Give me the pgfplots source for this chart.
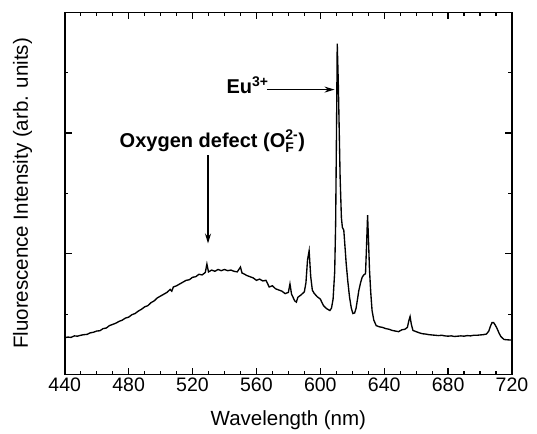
\documentclass[border=0pt]{standalone}
\usepackage{fontspec}
\setmainfont{Liberation Sans}
\usepackage{amsmath}
\usepackage{pgfplots}
\pgfplotsset{compat=1.18}
\usetikzlibrary{arrows.meta,calc}

\begin{document}
\begin{tikzpicture}
\begin{axis}[
    name=ax,
    scale only axis,
    width=447pt, height=362pt,
    xmin=440, xmax=720, ymin=0, ymax=6,
    xtick={440,480,...,720},
    minor x tick num=3,
    ytick={2,4}, minor ytick={1,3,5},
    yticklabels={},
    tick align=inside,
    major tick length=7pt, minor tick length=3.5pt,
    tick style={line width=1.2pt, black},
    axis line style={line width=1.6pt},
    /pgf/number format/assume math mode=true,
    xticklabel style={font=\fontsize{19.5}{22}\selectfont},
    xlabel={Wavelength (nm)},
    ylabel={Fluorescence Intensity (arb. units)},
    label style={font=\fontsize{20.5}{23}\selectfont},
    xlabel style={at={(axis description cs:0.5,-0.127)}, anchor=center},
    ylabel style={at={(axis description cs:-0.094,0.5)}, anchor=center},
]
\addplot[black, line width=1.35pt] coordinates {
(440,0.61) (442,0.62) (444,0.615) (446,0.64) (448,0.635) (450,0.65)
(452,0.66) (454,0.665) (456,0.69) (458,0.70) (460,0.72) (462,0.725)
(464,0.76) (466,0.77) (468,0.81) (470,0.83) (472,0.85) (474,0.88)
(476,0.90) (478,0.935) (480,0.95) (482,0.99) (484,1.01) (486,1.05)
(488,1.08) (490,1.12) (492,1.14) (494,1.19) (496,1.22) (498,1.27)
(500,1.30) (502,1.33) (504,1.36) (506,1.41) (507,1.38) (508,1.45)
(510,1.47) (512,1.50) (514,1.53) (516,1.56) (518,1.57) (520,1.61)
(522,1.62) (524,1.66) (526,1.65) (528,1.69) (529,1.83) (530,1.70)
(532,1.73) (534,1.71) (536,1.74) (538,1.72) (540,1.74) (542,1.72)
(544,1.73) (546,1.71) (548,1.70) (550,1.78) (551,1.68) (552,1.67)
(554,1.64) (556,1.62) (558,1.60) (560,1.56) (562,1.58) (564,1.55)
(566,1.56) (568,1.45) (570,1.47) (572,1.42) (574,1.40) (576,1.38)
(578,1.34) (580,1.36) (581,1.50) (582,1.33) (584,1.22) (585,1.20)
(586,1.28) (588,1.32) (590,1.37) (591,1.52) (592,1.90) (593,2.05)
(594,1.62) (595,1.40) (596,1.35) (598,1.29) (600,1.25) (602,1.14)
(604,1.09) (606,1.06) (607,1.10) (608,1.25) (609,1.70) (609.6,2.5)
(610.2,4.2) (610.6,5.48) (611.2,4.9) (611.6,4.38) (612.4,3.27) (613.2,2.60)
(613.8,2.44) (614.7,2.39) (615.5,2.10) (616.2,1.84) (617.2,1.55) (618.3,1.28)
(619.4,1.10) (620.4,1.01) (621.5,1.02) (622.4,1.10) (623.3,1.25) (624.1,1.39)
(625.2,1.52) (626.2,1.61) (627.2,1.65) (628.3,1.67) (628.9,2.10) (629.6,2.64)
(630.2,2.20) (630.8,1.73) (631.6,1.35) (632.4,1.06) (633.5,0.90) (635,0.81)
(637,0.79) (639,0.78) (641,0.76) (643,0.75) (645,0.73) (647,0.72)
(649,0.71) (651,0.74) (653,0.75) (654.5,0.78) (655.5,0.90) (656.2,0.96)
(657,0.83) (658,0.73) (660,0.71) (662,0.69) (664,0.675) (666,0.67)
(668,0.66) (670,0.655) (672,0.65) (674,0.645) (676,0.65) (678,0.64)
(680,0.635) (682,0.64) (684,0.63) (686,0.635) (688,0.64) (690,0.635)
(692,0.645) (694,0.64) (696,0.65) (698,0.65) (700,0.655) (702,0.66)
(704,0.67) (705.5,0.72) (706.5,0.80) (707.5,0.86) (708.5,0.86) (709.5,0.82)
(710.5,0.77) (712,0.68) (713,0.63) (715,0.58) (717,0.575) (720,0.57)
};

% annotations
\node[anchor=base west, inner sep=0pt, font=\fontsize{20}{23}\selectfont\bfseries]
    at (axis cs:474.3,3.76) {Oxygen defect (O$^{\text{2-}}_{\text{F}}$)};
\draw[-{Stealth[length=10pt,width=6pt]}, line width=1.3pt]
    (axis cs:529.7,3.63) -- (axis cs:529.7,2.17);
\node[anchor=base west, inner sep=0pt, font=\fontsize{20}{23}\selectfont\bfseries]
    at (axis cs:541.2,4.65) {Eu$^{\text{3+}}$};
\draw[-{Stealth[length=10pt,width=6pt]}, line width=1.3pt]
    (axis cs:566.6,4.72) -- (axis cs:608.9,4.72);
\end{axis}
\pgfresetboundingbox
\path ($(ax.south west)+(-64.7pt,-59pt)$) rectangle ($(ax.north east)+(25pt,12.3pt)$);
\end{tikzpicture}
\end{document}
